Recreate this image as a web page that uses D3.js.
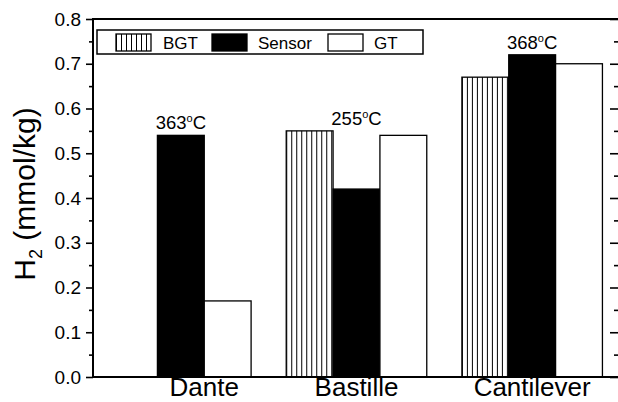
<!DOCTYPE html>
<html>
<head>
<meta charset="utf-8">
<script src="https://cdn.jsdelivr.net/npm/d3@7"></script>
<style>
  body { margin: 0; background: #fff; }
  svg text { font-family: Arial, "Liberation Sans", Helvetica, sans-serif; fill: #000; }
</style>
</head>
<body>
<svg id="chart" width="618" height="402"></svg>
<script>
// Sites along the x axis and the three measurement series
const sites = ["Dante", "Bastille", "Cantilever"];
const seriesNames = ["BGT", "Sensor", "GT"];
const bgtValues = [null, 0.55, 0.67];
const sensorValues = [0.54, 0.42, 0.72];
const gtValues = [0.17, 0.54, 0.70];
const siteTemps = ["363", "255", "368"];
const yTickValues = [0, 0.1, 0.2, 0.3, 0.4, 0.5, 0.6, 0.7, 0.8];
const yMinorValues = [0.05, 0.15, 0.25, 0.35, 0.45, 0.55, 0.65, 0.75];
const yLabel = "H";
const yLabelSub = "2";
const yLabelUnit = " (mmol/kg)";

const seriesValues = { BGT: bgtValues, Sensor: sensorValues, GT: gtValues };

const svg = d3.select("#chart");
const plot = { left: 93, right: 620, top: 19, bottom: 377 };

const x0 = d3.scaleBand().domain(sites).range([plot.left, plot.right])
  .paddingInner(0.2).paddingOuter(0.1);
const x1 = d3.scaleBand().domain(seriesNames).range([0, x0.bandwidth()]);
const y = d3.scaleLinear().domain([0, 0.8]).range([plot.bottom, plot.top]);

const defs = svg.append("defs");
function stripePattern(id, x0px) {
  const p = defs.append("pattern")
    .attr("id", id)
    .attr("patternUnits", "userSpaceOnUse")
    .attr("width", 5).attr("height", 10)
    .attr("patternTransform", `translate(${x0px},0)`);
  p.append("rect").attr("width", 5).attr("height", 10).attr("fill", "#fff");
  p.append("line").attr("x1", 0.5).attr("x2", 0.5).attr("y1", 0).attr("y2", 10)
    .attr("stroke", "#000").attr("stroke-width", 1);
}

const fills = { Sensor: "#000", GT: "#fff" };

// Flatten to bar records
const bars = [];
sites.forEach((site, i) => {
  seriesNames.forEach(s => {
    const v = seriesValues[s][i];
    if (v != null) bars.push({ site, series: s, value: v, idx: i });
  });
});

bars.forEach((b, k) => {
  if (b.series === "BGT") {
    b.patternId = "stripe" + k;
    stripePattern(b.patternId, x0(b.site) + x1(b.series));
  }
});

svg.append("g").selectAll("rect")
  .data(bars)
  .join("rect")
  .attr("x", d => x0(d.site) + x1(d.series))
  .attr("y", d => y(d.value))
  .attr("width", x1.bandwidth())
  .attr("height", d => y(0) - y(d.value))
  .attr("fill", d => d.series === "BGT" ? `url(#${d.patternId})` : fills[d.series])
  .attr("stroke", "#000")
  .attr("stroke-width", 1.3);

// Temperature labels above each site's sensor bar
const tempG = svg.append("g");
sites.forEach((site, i) => {
  const groupMax = d3.max(seriesNames, s => seriesValues[s][i]);
  const t = tempG.append("text")
    .attr("x", x0(site) + x1("Sensor") + x1.bandwidth() / 2)
    .attr("y", y(groupMax) - 6)
    .attr("text-anchor", "middle")
    .attr("font-size", 18.5);
  t.append("tspan").text(siteTemps[i]);
  t.append("tspan").attr("font-size", 11).attr("dy", -7).text("o");
  t.append("tspan").attr("dy", 7).text("C");
});

// Left axis with outward ticks and labels
const axisStroke = 2;
const leftAxis = svg.append("g").attr("transform", `translate(${plot.left},0)`)
  .call(d3.axisLeft(y).tickValues(yTickValues).tickSize(7).tickPadding(5)
    .tickFormat(d3.format(".1f")));
leftAxis.select(".domain").remove();
leftAxis.selectAll(".tick line").attr("stroke-width", 1.6);
leftAxis.selectAll(".tick text").attr("font-size", 19).attr("font-family", "Arial, 'Liberation Sans', sans-serif");
svg.append("g").attr("transform", `translate(${plot.left},0)`)
  .call(d3.axisLeft(y).tickValues(yMinorValues).tickSize(4).tickFormat(""))
  .call(g => g.select(".domain").remove())
  .selectAll(".tick line").attr("stroke-width", 1.6);

// Right axis mirror ticks pointing inward
svg.append("g").attr("transform", `translate(${plot.right},0)`)
  .call(d3.axisLeft(y).tickValues(yTickValues).tickSize(-10).tickFormat(""))
  .call(g => g.select(".domain").remove())
  .selectAll(".tick line").attr("stroke-width", 1.6).attr("x2", -10);
svg.append("g").attr("transform", `translate(${plot.right},0)`)
  .call(d3.axisLeft(y).tickValues(yMinorValues).tickSize(-6).tickFormat(""))
  .call(g => g.select(".domain").remove())
  .selectAll(".tick line").attr("stroke-width", 1.6).attr("x2", -6);

// Frame
svg.append("rect")
  .attr("x", plot.left).attr("y", plot.top)
  .attr("width", plot.right - plot.left).attr("height", plot.bottom - plot.top)
  .attr("fill", "none").attr("stroke", "#000").attr("stroke-width", axisStroke);

// Site labels centred under the bars present at each site
sites.forEach((site, i) => {
  const present = seriesNames.filter(s => seriesValues[s][i] != null);
  const xs = present.map(s => x0(site) + x1(s));
  const cx = (d3.min(xs) + d3.max(xs) + x1.bandwidth()) / 2;
  svg.append("text")
    .attr("x", cx).attr("y", 396)
    .attr("text-anchor", "middle")
    .attr("font-size", 26)
    .text(site);
});

// Y axis title
const yt = svg.append("text")
  .attr("transform", `translate(35,194) rotate(-90)`)
  .attr("text-anchor", "middle")
  .attr("font-size", 30);
yt.append("tspan").text(yLabel);
yt.append("tspan").attr("font-size", 18).attr("dy", 7).text(yLabelSub);
yt.append("tspan").attr("dy", -7).text(yLabelUnit);

// Legend
const legend = svg.append("g");
legend.append("rect").attr("x", 97).attr("y", 30).attr("width", 326).attr("height", 24)
  .attr("fill", "#fff").attr("stroke", "#000").attr("stroke-width", 1.5);
const legendSwatchX = [116, 212, 328];
const legendTextX = [163, 258, 374];
stripePattern("stripeLegend", legendSwatchX[0]);
seriesNames.forEach((s, i) => {
  legend.append("rect")
    .attr("x", legendSwatchX[i]).attr("y", 34).attr("width", 35).attr("height", 17)
    .attr("fill", s === "BGT" ? "url(#stripeLegend)" : fills[s])
    .attr("stroke", "#000").attr("stroke-width", 1.3);
  legend.append("text")
    .attr("x", legendTextX[i]).attr("y", 48.5)
    .attr("font-size", 17)
    .text(s);
});
</script>
</body>
</html>
